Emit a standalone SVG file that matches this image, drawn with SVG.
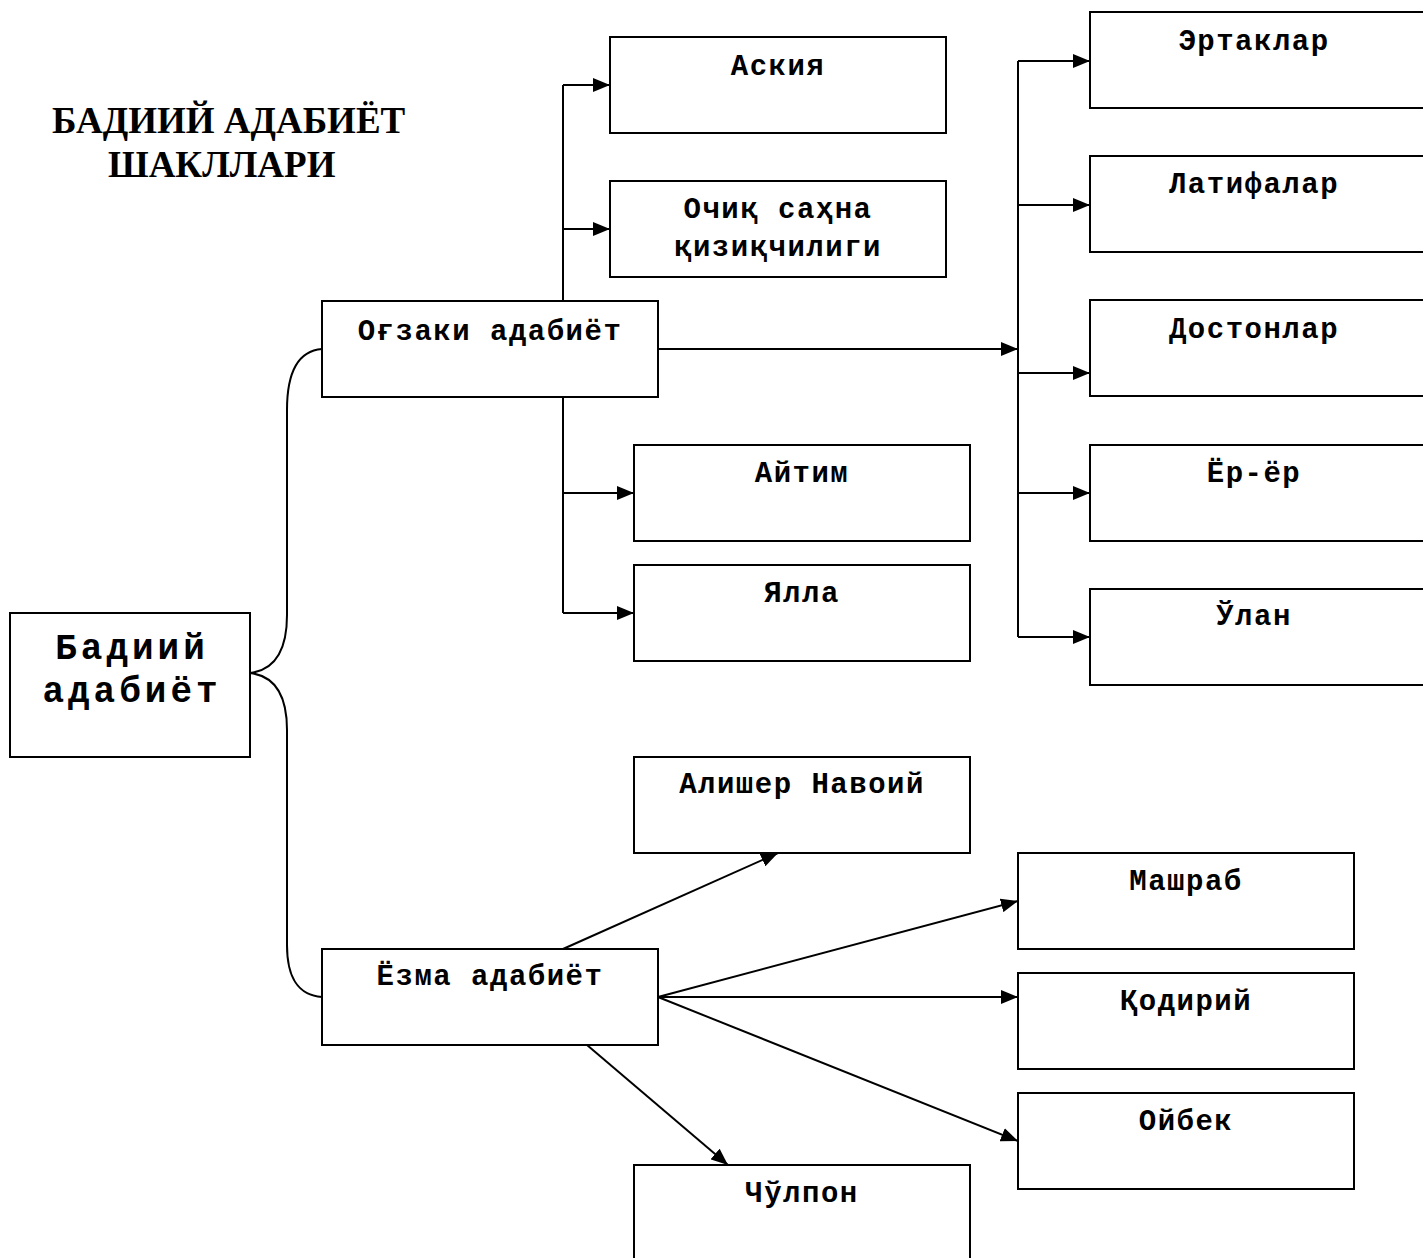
<svg xmlns="http://www.w3.org/2000/svg" width="1423" height="1258" viewBox="0 0 1423 1258">
<defs>
<style>
.box{fill:#fff;stroke:#000;stroke-width:2}
.t{font-family:"Liberation Mono","DejaVu Sans Mono",monospace;font-weight:bold;font-size:29px;letter-spacing:1.5px;fill:#000;text-anchor:middle}
.big{font-size:36px;letter-spacing:4px}
.title{font-family:"Liberation Serif","Times New Roman",serif;font-weight:bold;font-size:37px;fill:#000}
.c{fill:none;stroke:#000;stroke-width:2}
</style>
<marker id="ah" markerUnits="userSpaceOnUse" markerWidth="17" markerHeight="14" refX="17" refY="7" orient="auto">
<path d="M0,0 L17,7 L0,14 Z" fill="#000"/>
</marker>
</defs>
<rect width="1423" height="1258" fill="#fff"/>
<text class="title" x="52" y="133">БАДИИЙ АДАБИЁТ</text>
<text class="title" x="108" y="177">ШАКЛЛАРИ</text>
<g id="connectors">
<path class="c" d="M322,349 C296,351 287,375 287,410 L287,615 C287,650 275,670 250,673 C275,676 287,696 287,730 L287,945 C287,975 296,995 322,997"/>
<path class="c" d="M563,301 L563,85"/>
<path class="c" d="M563,85 L610,85" marker-end="url(#ah)"/>
<path class="c" d="M563,229 L610,229" marker-end="url(#ah)"/>
<path class="c" d="M563,397 L563,613"/>
<path class="c" d="M563,493 L634,493" marker-end="url(#ah)"/>
<path class="c" d="M563,613 L634,613" marker-end="url(#ah)"/>
<path class="c" d="M658,349 L1018,349" marker-end="url(#ah)"/>
<path class="c" d="M1018,61 L1018,637"/>
<path class="c" d="M1018,61 L1090,61" marker-end="url(#ah)"/>
<path class="c" d="M1018,205 L1090,205" marker-end="url(#ah)"/>
<path class="c" d="M1018,373 L1090,373" marker-end="url(#ah)"/>
<path class="c" d="M1018,493 L1090,493" marker-end="url(#ah)"/>
<path class="c" d="M1018,637 L1090,637" marker-end="url(#ah)"/>
<path class="c" d="M563,949 L778,853" marker-end="url(#ah)"/>
<path class="c" d="M658,997 L1018,901" marker-end="url(#ah)"/>
<path class="c" d="M658,997 L1018,997" marker-end="url(#ah)"/>
<path class="c" d="M658,997 L1018,1141" marker-end="url(#ah)"/>
<path class="c" d="M587,1045 L728,1165" marker-end="url(#ah)"/>
</g>
<g id="n-badiiy"><rect class="box" x="10" y="613" width="240" height="144"/><text class="t big" x="132" y="659">Бадиий</text><text class="t big" x="132" y="702">адабиёт</text></g>
<g id="n-ogzaki"><rect class="box" x="322" y="301" width="336" height="96"/><text class="t" x="490" y="340">Оғзаки адабиёт</text></g>
<g id="n-askiya"><rect class="box" x="610" y="37" width="336" height="96"/><text class="t" x="778" y="75">Аския</text></g>
<g id="n-ochiq"><rect class="box" x="610" y="181" width="336" height="96"/><text class="t" x="778" y="218">Очиқ саҳна</text><text class="t" x="778" y="256">қизиқчилиги</text></g>
<g id="n-aytim"><rect class="box" x="634" y="445" width="336" height="96"/><text class="t" x="802" y="482">Айтим</text></g>
<g id="n-yalla"><rect class="box" x="634" y="565" width="336" height="96"/><text class="t" x="802" y="602">Ялла</text></g>
<g id="n-ertaklar"><rect class="box" x="1090" y="12" width="340" height="96"/><text class="t" x="1254" y="50">Эртаклар</text></g>
<g id="n-latifalar"><rect class="box" x="1090" y="156" width="340" height="96"/><text class="t" x="1254" y="193">Латифалар</text></g>
<g id="n-dostonlar"><rect class="box" x="1090" y="300" width="340" height="96"/><text class="t" x="1254" y="338">Достонлар</text></g>
<g id="n-yoryor"><rect class="box" x="1090" y="445" width="340" height="96"/><text class="t" x="1254" y="482">Ёр-ёр</text></g>
<g id="n-ulan"><rect class="box" x="1090" y="589" width="340" height="96"/><text class="t" x="1254" y="625">Ўлан</text></g>
<g id="n-navoiy"><rect class="box" x="634" y="757" width="336" height="96"/><text class="t" x="802" y="793">Алишер Навоий</text></g>
<g id="n-mashrab"><rect class="box" x="1018" y="853" width="336" height="96"/><text class="t" x="1186" y="890">Машраб</text></g>
<g id="n-qodiriy"><rect class="box" x="1018" y="973" width="336" height="96"/><text class="t" x="1186" y="1010">Қодирий</text></g>
<g id="n-oybek"><rect class="box" x="1018" y="1093" width="336" height="96"/><text class="t" x="1186" y="1130">Ойбек</text></g>
<g id="n-yozma"><rect class="box" x="322" y="949" width="336" height="96"/><text class="t" x="490" y="985">Ёзма адабиёт</text></g>
<g id="n-cholpon"><rect class="box" x="634" y="1165" width="336" height="100"/><text class="t" x="802" y="1202">Чўлпон</text></g>
</svg>
